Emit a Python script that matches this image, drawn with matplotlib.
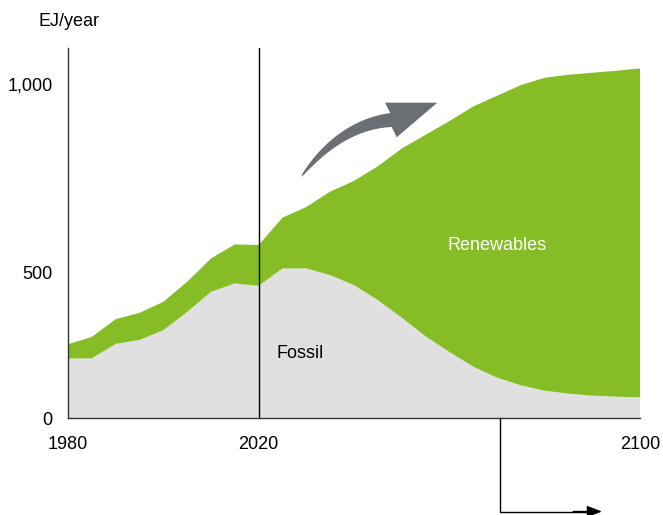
import numpy as np
import matplotlib
matplotlib.use("Agg")
import matplotlib.pyplot as plt
from matplotlib.patches import Polygon

plt.rcParams["font.family"] = ["Liberation Sans", "DejaVu Sans"]

YEARS = [1980, 1985, 1990, 1995, 2000, 2005, 2010, 2015, 2020, 2025, 2030, 2035, 2040,
         2045, 2050, 2055, 2060, 2065, 2070, 2075, 2080, 2085, 2090, 2095, 2100]
FOSSIL = [178, 179, 222, 234, 263, 318, 378, 403, 396, 448, 448, 428, 398,
          353, 301, 245, 198, 154, 121, 98, 82, 73, 67, 64, 62]
RENEWABLES = [43, 64, 74, 81, 85, 90, 100, 117, 122, 152, 184, 250, 312,
              401, 506, 603, 691, 779, 844, 899, 937, 955, 967, 976, 985]

X_TICKS = [1980, 2020, 2100]
Y_TICK_LABELS = ["0", "500", "1,000"]
Y_TICK_POS = [0, 437, 1000]

GREEN = "#86bc25"
GREY = "#e0e0e0"
ARROW_GREY = "#6b6e72"

W, H = 663, 515


def growth_arrow(fig):
    # curved tapering arrow, built in figure pixels (y measured from top)
    tail = np.array([301.0, 177.0])
    ctrl = np.array([340.0, 125.0])
    base = np.array([391.0, 120.0])
    t = np.linspace(0, 1, 40)[:, None]
    mid = (1 - t) ** 2 * tail + 2 * t * (1 - t) * ctrl + t ** 2 * base
    deriv = 2 * (1 - t) * (ctrl - tail) + 2 * t * (base - ctrl)
    normal = np.column_stack([deriv[:, 1], -deriv[:, 0]])
    normal /= np.linalg.norm(normal, axis=1)[:, None]
    half = 7.0 * t ** 0.6
    upper = mid - normal * half
    lower = mid + normal * half
    head = np.array([[385.0, 102.7], [437.3, 102.7], [396.7, 137.3]])
    if upper[-1, 1] > lower[-1, 1]:
        upper, lower = lower, upper
    pts = np.vstack([upper, head, lower[::-1]])
    pts = np.column_stack([pts[:, 0] / W, 1 - pts[:, 1] / H])
    fig.patches.append(Polygon(pts, closed=True, transform=fig.transFigure,
                               facecolor=ARROW_GREY, edgecolor="none"))


fig = plt.figure(figsize=(W / 100, H / 100), dpi=100)
ax = fig.add_axes([0.1026, 0.1883, 0.8627, 0.7184])

ax.stackplot(YEARS, FOSSIL, RENEWABLES, colors=[GREY, GREEN], linewidth=0)
ax.axvline(2020, color="black", lw=1.0)

ax.set_xlim(1980, 2100)
ax.set_ylim(0, 1108)
ax.set_xticks(X_TICKS)
ax.set_yticks(Y_TICK_POS)
ax.set_yticklabels(Y_TICK_LABELS)
ax.tick_params(axis="both", length=0, labelsize=13)
ax.tick_params(axis="x", pad=13)
ax.tick_params(axis="y", pad=11)
for side in ("top", "right"):
    ax.spines[side].set_visible(False)
for side in ("left", "bottom"):
    ax.spines[side].set_color("#333333")
    ax.spines[side].set_linewidth(1.0)

fig.text(38 / W, 1 - 21 / H, "EJ/year", fontsize=13, ha="left", va="center")
ax.text(2070, 518, "Renewables", color="white", fontsize=13, ha="center", va="center")
ax.text(2023.8, 192, "Fossil", color="black", fontsize=13, ha="left", va="center")

growth_arrow(fig)

# L-shaped pointer below the axis
ax.plot([2070.6, 2070.6, 2089], [0, -280, -280], color="black", lw=1.0, clip_on=False)
ax.annotate("", xy=(2092, -280), xytext=(2086, -280), annotation_clip=False,
            arrowprops=dict(arrowstyle="-|>,head_length=0.9,head_width=0.35",
                            color="black", lw=1.0, shrinkA=0, shrinkB=0))

fig.savefig("out.png", dpi=100)
